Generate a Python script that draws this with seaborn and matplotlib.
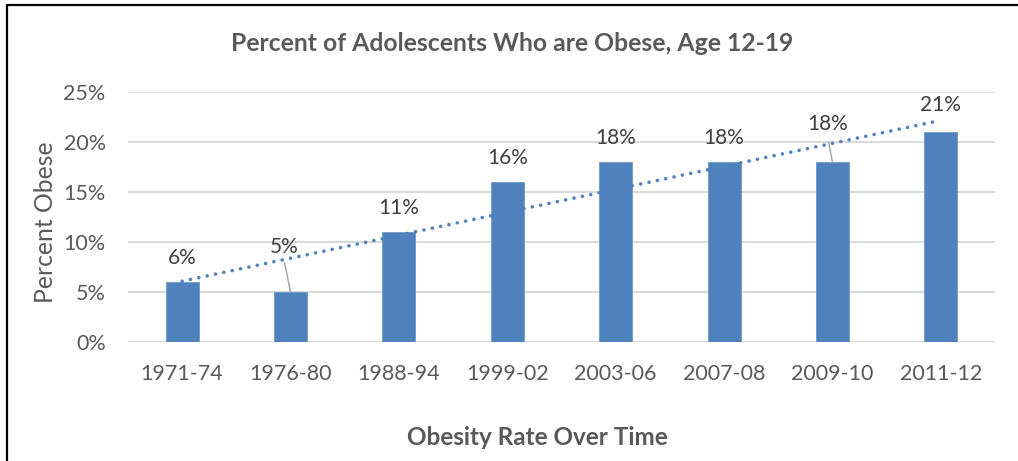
import numpy as np
import pandas as pd
import matplotlib
matplotlib.use("Agg")
import matplotlib.pyplot as plt
from matplotlib.lines import Line2D
import seaborn as sns

# Survey periods and share of adolescents (12-19) who are obese, in percent
periods = ["1971-74", "1976-80", "1988-94", "1999-02",
           "2003-06", "2007-08", "2009-10", "2011-12"]
obese_pct = [6, 5, 11, 16, 18, 18, 18, 21]
y_ticks = [0, 5, 10, 15, 20, 25]

title = "Percent of Adolescents Who are Obese, Age 12-19"
x_title = "Obesity Rate Over Time"
y_title = "Percent Obese"

sns.set_theme(style="white")
plt.rcParams["font.family"] = ["Lato", "DejaVu Sans"]

BAR = "#4f81bd"
TEXT = "#595959"
LABEL = "#404040"
GRID = "#d9d9d9"

df = pd.DataFrame({"period": periods, "pct": obese_pct})

fig = plt.figure(figsize=(10.18, 4.61), dpi=100)
ax = fig.add_axes([0.1257, 0.2581, 0.8517, 0.5423])

sns.barplot(data=df, x="period", y="pct", color=BAR, width=0.305,
            edgecolor="#6f9acb", linewidth=0.6, saturation=1, ax=ax, zorder=3)

# Linear trend across the survey periods
pos = np.arange(len(periods))
slope, intercept = np.polyfit(pos, obese_pct, 1)
ax.plot(pos, slope * pos + intercept, color=BAR, lw=2.6,
        linestyle=(0, (0.01, 2.35)), dash_capstyle="round", zorder=4)

ax.set_xlim(-0.5, len(periods) - 0.5)
ax.set_ylim(0, 25)
ax.set_yticks(y_ticks)
ax.set_yticklabels([f"{t}%" for t in y_ticks])
ax.grid(axis="y", color=GRID, lw=1.4, zorder=0)
ax.grid(axis="x", visible=False)
for s in ax.spines.values():
    s.set_visible(False)
ax.tick_params(axis="y", length=0, pad=16, labelsize=15.5, labelcolor=TEXT)
ax.tick_params(axis="x", length=0, pad=16, labelsize=15.5, labelcolor=TEXT)
ax.set_xlabel("")
ax.set_ylabel("")

# Value labels; two are lifted clear of the trend line with a leader
lifted = {1: (-0.06, 4.5, 2.9), 6: (-0.04, 3.8, 2.0)}
for i, v in enumerate(obese_pct):
    if i in lifted:
        dx, dy, lead = lifted[i]
        ax.text(i + dx, v + dy, f"{v}%", ha="center", va="center",
                fontsize=15, color=LABEL, zorder=5)
        ax.plot([i, i + dx * 0.9], [v, v + lead], color="#a6a6a6",
                lw=1.1, zorder=4)
    else:
        dy = 2.7 if i == len(obese_pct) - 1 else 2.45
        ax.text(i, v + dy, f"{v}%", ha="center", va="center",
                fontsize=15, color=LABEL, zorder=5)

fig.text(0.503, 0.905, title, ha="center", va="center",
         fontsize=17.8, fontweight="bold", color=TEXT)
fig.text(0.528, 0.052, x_title, ha="center", va="center",
         fontsize=17.5, fontweight="bold", color=TEXT)
fig.text(0.045, 0.518, y_title, ha="center", va="center", rotation=90,
         fontsize=17.8, color=TEXT)

# Frame edges along the left and top of the chart area
fig.add_artist(Line2D([7 / 1018, 7 / 1018], [0, 1 - 5 / 461],
                      transform=fig.transFigure, color="black", lw=1.6))
fig.add_artist(Line2D([7 / 1018, 1], [1 - 5 / 461, 1 - 5 / 461],
                      transform=fig.transFigure, color="black", lw=1.6))

fig.savefig("out.png", dpi=100, facecolor="white")
